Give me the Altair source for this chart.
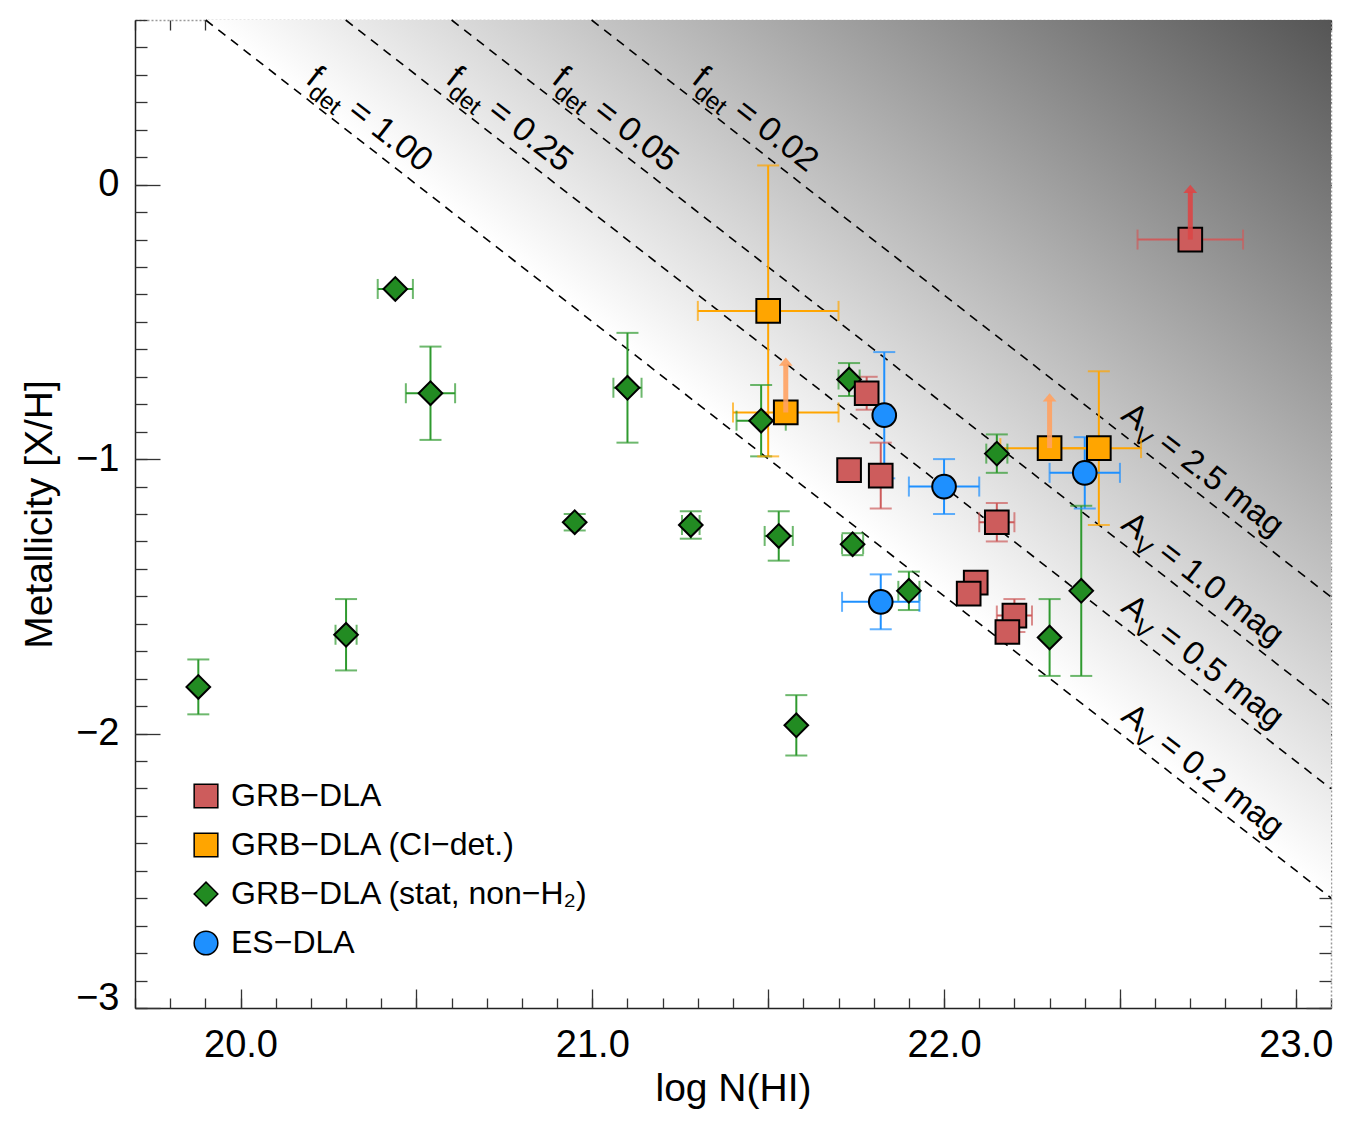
import math

import altair as alt
import pandas as pd

FONT = "Liberation Sans"

# ------------------------------------------------------------------ data
SERIES = ["GRB−DLA", "GRB−DLA (CI−det.)", "GRB−DLA (stat, non−H₂)", "ES−DLA"]
SHAPES = ["square", "square", "diamond", "circle"]
FILLS = ["#CD5C5C", "#FFA500", "#228B22", "#1E90FF"]
EDGES = ["black", "black", "black", "black"]
ERR_COLORS = ["#CD5C5C", "#FFA500", "#2F9A2F", "#1E90FF"]
ARROW_COLORS = ["#DC4646", "#FFA262", "#2F9A2F", "#1E90FF"]

# GRB-DLA (stat, non-H2)
stat_logn = [19.88, 20.30, 20.44, 20.54, 20.95, 21.10, 21.28, 21.53,
             21.74, 21.90, 21.58, 21.48, 21.73, 22.15, 22.39, 22.30]
stat_met = [-1.83, -1.64, -0.38, -0.76, -1.23, -0.74, -1.24, -1.28,
            -1.31, -1.48, -1.97, -0.86, -0.71, -0.98, -1.48, -1.65]
stat_logn_err = [0.00, 0.03, 0.05, 0.07, 0.00, 0.04, 0.025, 0.04,
                 0.03, 0.03, 0.00, 0.07, 0.03, 0.03, 0.00, 0.00]
stat_met_err = [0.10, 0.13, 0.00, 0.17, 0.03, 0.20, 0.05, 0.09,
                0.04, 0.07, 0.11, 0.13, 0.06, 0.07, 0.31, 0.14]
stat_lower = [0] * 16

# GRB-DLA
grb_logn = [22.70, 21.78, 21.73, 21.82, 22.15, 22.09, 22.07, 22.20, 22.18]
grb_met = [-0.20, -0.76, -1.04, -1.06, -1.23, -1.45, -1.49, -1.57, -1.63]
grb_logn_err = [0.15, 0.00, 0.00, 0.00, 0.05, 0.00, 0.00, 0.05, 0.03]
grb_met_err = [0.00, 0.06, 0.00, 0.12, 0.07, 0.00, 0.00, 0.06, 0.03]
grb_lower = [1, 0, 0, 0, 0, 0, 0, 0, 0]

# GRB-DLA with CI detection
ci_logn = [21.50, 21.55, 22.30, 22.44]
ci_met = [-0.46, -0.83, -0.96, -0.96]
ci_logn_err = [0.20, 0.15, 0.14, 0.12]
ci_met_err = [0.53, 0.00, 0.00, 0.28]
ci_lower = [0, 1, 1, 0]

# ES-DLA
es_logn = [21.83, 22.00, 21.82, 22.40]
es_met = [-0.84, -1.10, -1.52, -1.05]
es_logn_err = [0.00, 0.10, 0.11, 0.10]
es_met_err = [0.23, 0.10, 0.10, 0.13]
es_lower = [0, 0, 0, 0]

# dust-extinction tracks: A_V and the matching detection fraction
AV_MAG = [0.2, 0.5, 1.0, 2.5]
F_DET = [1.00, 0.25, 0.05, 0.02]
AV_ZERO = 21.2          # [X/H] + log N(HI) giving A_V = 1 mag

# ------------------------------------------------------------ geometry
X_DOM = [19.7, 23.1]
Y_DOM = [-3.0, 0.6]
W, H = 1196, 988
ANGLE = math.degrees(math.atan((H / (Y_DOM[1] - Y_DOM[0])) / (W / (X_DOM[1] - X_DOM[0]))))
ARROW_LEN = 0.2

XS = alt.Scale(domain=X_DOM, nice=False, zero=False)
YS = alt.Scale(domain=Y_DOM, nice=False, zero=False)

X_MAJOR = [round(20.0 + 0.5 * i, 1) for i in range(7)]
X_MINOR = [round(19.7 + 0.1 * i, 1) for i in range(35)]
Y_LABEL_VALUES = [-3, -2, -1, 0]
Y_MINOR = [round(-3.0 + 0.1 * i, 1) for i in range(37)]
X_LABEL_VALUES = [20.0, 21.0, 22.0, 23.0]

# ------------------------------------------------------------ tables
groups = [
    (2, stat_logn, stat_met, stat_logn_err, stat_met_err, stat_lower),
    (0, grb_logn, grb_met, grb_logn_err, grb_met_err, grb_lower),
    (1, ci_logn, ci_met, ci_logn_err, ci_met_err, ci_lower),
    (3, es_logn, es_met, es_logn_err, es_met_err, es_lower),
]
rows = []
for k, xs, ys, dxs, dys, lows in groups:
    for x, y, dx, dy, lo in zip(xs, ys, dxs, dys, lows):
        rows.append(dict(series=SERIES[k], logn=x, met=y, dlogn=dx, dmet=dy,
                         lower=lo, ecol=ERR_COLORS[k], acol=ARROW_COLORS[k]))
pts = pd.DataFrame(rows)

verr = pts[pts.dmet > 0].assign(lo=lambda d: d.met - d.dmet, hi=lambda d: d.met + d.dmet)
herr = pts[pts.dlogn > 0].assign(lo=lambda d: d.logn - d.dlogn, hi=lambda d: d.logn + d.dlogn)
vcap = pd.concat([verr.assign(capy=verr.lo), verr.assign(capy=verr.hi)])
hcap = pd.concat([herr.assign(capx=herr.lo), herr.assign(capx=herr.hi)])
arrows = pts[pts.lower == 1].assign(tip=lambda d: d.met + ARROW_LEN,
                                    shaft=lambda d: d.met + ARROW_LEN - 0.025)

consts = [AV_ZERO + math.log10(a) for a in AV_MAG]
line_rows = []
for a, c in zip(AV_MAG, consts):
    line_rows.append(dict(av=a, logn=c - Y_DOM[1], met=Y_DOM[1]))
    line_rows.append(dict(av=a, logn=X_DOM[1], met=c - X_DOM[1]))
lines_df = pd.DataFrame(line_rows)

c0 = consts[0]
shade_df = pd.DataFrame({"logn": [c0 - Y_DOM[1], X_DOM[1]],
                         "met": [Y_DOM[1], c0 - X_DOM[1]],
                         "top": [Y_DOM[1], Y_DOM[1]]})

F_ANCHOR_Y = 0.34
fdet_df = pd.DataFrame({"logn": [c - F_ANCHOR_Y for c in consts],
                        "met": [F_ANCHOR_Y] * 4,
                        "main": ["f"] * 4,
                        "sub": ["det"] * 4,
                        "rest": [f"= {f:.2f}" for f in F_DET]})
AV_ANCHOR_X = 22.48
av_df = pd.DataFrame({"logn": [AV_ANCHOR_X] * 4,
                      "met": [c - AV_ANCHOR_X for c in consts],
                      "main": ["A"] * 4,
                      "sub": ["V"] * 4,
                      "rest": [f"= {a:.1f} mag" for a in AV_MAG]})

# ------------------------------------------------------------ axes
TICK = dict(grid=False, labels=False, title=None, domain=False, ticks=True,
            tickColor="#333333", tickWidth=1.3)


def ticks_axis(orient, values, size):
    return alt.Axis(orient=orient, values=values, tickSize=size, offset=-size, **TICK)


def frame_axis(orient, color, dash):
    return alt.Axis(orient=orient, grid=False, labels=False, title=None, ticks=False,
                    domain=True, domainColor=color, domainWidth=1.5, domainDash=dash)


x_labels = alt.Axis(orient="bottom", values=X_LABEL_VALUES, format=".1f", ticks=False,
                    tickSize=0, grid=False, domain=True, domainColor="#222222",
                    domainWidth=1.5, labelFontSize=38, labelPadding=18,
                    title="log N(HI)", titleFontSize=39, titlePadding=5,
                    titleFontWeight="normal")
y_labels = alt.Axis(orient="left", values=Y_LABEL_VALUES, format="d", ticks=False,
                    tickSize=0, grid=False, domain=True, domainColor="#222222",
                    domainWidth=1.5, labelFontSize=38, labelPadding=16, labelFlush=True,
                    labelFlushOffset=9,
                    title="Metallicity [X/H]", titleFontSize=39, titlePadding=16,
                    titleFontWeight="normal")

AXES = [
    (x_labels, y_labels),
    (ticks_axis("bottom", X_MAJOR, 19), ticks_axis("left", Y_LABEL_VALUES, 25)),
    (ticks_axis("bottom", X_MINOR, 10), ticks_axis("left", Y_MINOR, 12)),
    (frame_axis("top", "#9a9a9a", [2, 2]), frame_axis("right", "#9a9a9a", [2, 2])),
    (ticks_axis("top", X_MAJOR, 19), ticks_axis("right", Y_LABEL_VALUES, 25)),
    (ticks_axis("top", X_MINOR, 10), ticks_axis("right", Y_MINOR, 12)),
]


def ex(field, axis=None):
    return alt.X(f"{field}:Q", scale=XS, axis=axis)


def ey(field, axis=None):
    return alt.Y(f"{field}:Q", scale=YS, axis=axis)


# ------------------------------------------------------------ layers
shade = alt.Chart(shade_df).mark_area(
    line=False,
    color=alt.Gradient(
        gradient="linear",
        stops=[alt.GradientStop(color="#ffffff", offset=0),
               alt.GradientStop(color="#ffffff", offset=0.5),
               alt.GradientStop(color="#555555", offset=1)],
        x1=0, y1=1, x2=1, y2=0),
).encode(x=ex("logn", AXES[0][0]), y=ey("met", AXES[0][1]), y2="top:Q")

tracks = alt.Chart(lines_df).mark_line(
    color="black", strokeDash=[9, 7], strokeWidth=1.6
).encode(x=ex("logn", AXES[1][0]), y=ey("met", AXES[1][1]), detail="av:N")


def label_layers(df, main_size, sub_size, sub_dx, rest_dx, main_dy, sub_dy):
    out = []
    for col, size, dx, dy in [("main", main_size, 0, main_dy),
                              ("sub", sub_size, sub_dx, sub_dy),
                              ("rest", main_size, rest_dx, main_dy)]:
        out.append(alt.Chart(df).mark_text(
            angle=ANGLE, align="left", baseline="alphabetic", font=FONT,
            fontSize=size, dx=dx, dy=dy, color="black"
        ).encode(x=ex("logn"), y=ey("met"), text=f"{col}:N"))
    return out


fdet_text = label_layers(fdet_df, 34, 24, 10, 53, -12, -3)
av_text = label_layers(av_df, 33, 24, 22, 47, -11, -2)

v_rules = alt.Chart(verr).mark_rule(strokeWidth=2).encode(
    x=ex("logn", AXES[2][0]), y=ey("lo", AXES[2][1]), y2="hi:Q",
    color=alt.Color("ecol:N", scale=None))
h_rules = alt.Chart(herr).mark_rule(strokeWidth=2).encode(
    x=ex("lo", AXES[3][0]), x2="hi:Q", y=ey("met", AXES[3][1]),
    color=alt.Color("ecol:N", scale=None))
v_caps = alt.Chart(vcap).mark_tick(orient="horizontal", size=22, thickness=2).encode(
    x=ex("logn", AXES[4][0]), y=ey("capy", AXES[4][1]),
    color=alt.Color("ecol:N", scale=None))
h_caps = alt.Chart(hcap).mark_tick(orient="vertical", size=20, thickness=2).encode(
    x=ex("capx", AXES[5][0]), y=ey("met", AXES[5][1]),
    color=alt.Color("ecol:N", scale=None))

legend = alt.Legend(
    title=None, orient="none", legendX=55, legendY=760,
    labelFont=FONT, labelFontSize=32, labelColor="black", labelLimit=0,
    symbolSize=560, symbolStrokeWidth=1.5, symbolStrokeColor="black",
    symbolOpacity=1, rowPadding=17, labelOffset=9, padding=0,
)

points = alt.Chart(pts).mark_point(
    filled=True, size=560, strokeWidth=2, opacity=1
).encode(
    x=ex("logn"), y=ey("met"),
    fill=alt.Fill("series:N", scale=alt.Scale(domain=SERIES, range=FILLS), legend=legend),
    shape=alt.Shape("series:N", scale=alt.Scale(domain=SERIES, range=SHAPES), legend=legend),
    stroke=alt.Stroke("series:N", scale=alt.Scale(domain=SERIES, range=EDGES), legend=legend),
)

shafts = alt.Chart(arrows).mark_rule(strokeWidth=5, opacity=0.9).encode(
    x=ex("logn"), y=ey("met"), y2="shaft:Q", color=alt.Color("acol:N", scale=None))
heads = alt.Chart(arrows).mark_point(
    shape="M0,0L1,1.2L-1,1.2Z", filled=True, size=190, opacity=0.9, strokeWidth=0
).encode(x=ex("logn"), y=ey("tip"), color=alt.Color("acol:N", scale=None))

chart = alt.layer(
    shade, tracks, *fdet_text, *av_text,
    v_rules, h_rules, v_caps, h_caps, points, shafts, heads,
).resolve_axis(
    x="independent", y="independent"
).properties(
    width=W, height=H,
    autosize=alt.AutoSizeParams(type="none"),
    padding={"left": 135, "top": 20, "right": 26, "bottom": 113},
    background="white",
).configure_view(
    stroke="transparent"
).configure_axis(
    labelFont=FONT, titleFont=FONT, labelColor="black", titleColor="black"
)

chart.save("out.html", embed_options={"renderer": "svg", "actions": False})
